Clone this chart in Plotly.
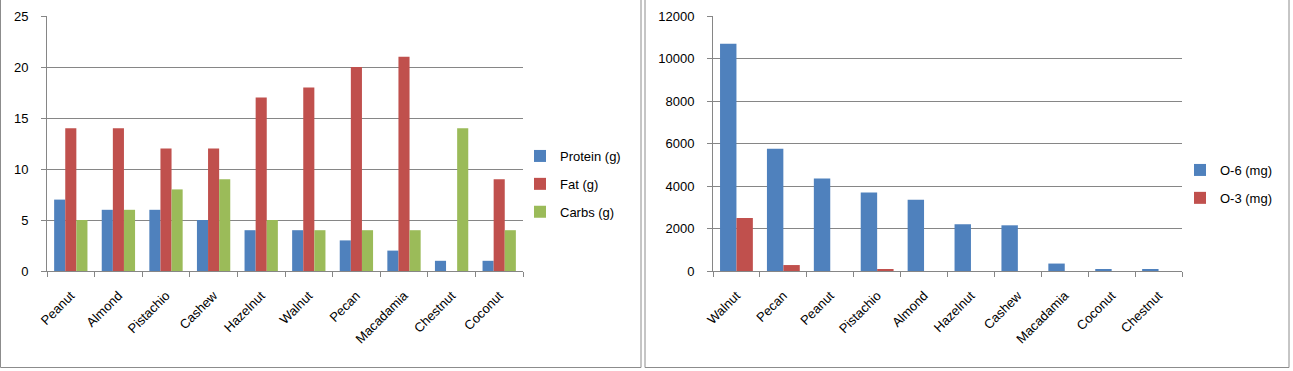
import plotly.graph_objects as go

# ---- data ----
nuts_left = ["Peanut", "Almond", "Pistachio", "Cashew", "Hazelnut", "Walnut",
             "Pecan", "Macadamia", "Chestnut", "Coconut"]
protein_g = [7, 6, 6, 5, 4, 4, 3, 2, 1, 1]
fat_g = [14, 14, 12, 12, 17, 18, 20, 21, 0, 9]
carbs_g = [5, 6, 8, 9, 5, 4, 4, 4, 14, 4]

nuts_right = ["Walnut", "Pecan", "Peanut", "Pistachio", "Almond", "Hazelnut",
              "Cashew", "Macadamia", "Coconut", "Chestnut"]
omega6_mg = [10700, 5750, 4350, 3700, 3350, 2200, 2150, 350, 80, 80]
omega3_mg = [2500, 280, 0, 80, 0, 0, 0, 0, 0, 0]

BLUE = "#4F81BD"
RED = "#C0504D"
GREEN = "#9BBB59"
GRID = "#868686"
FONT = "Liberation Sans"
FS = 13

W, H = 1293, 371


def px_x(p):
    return p / W


def px_y(p):
    return 1 - p / H


def bar(x, y, name, color, xa, ya, leg, grp):
    return go.Bar(x=x, y=y, name=name, marker=dict(color=color, line=dict(width=0)),
                  xaxis=xa, yaxis=ya, legend=leg, legendgroup=grp)


fig = go.Figure()
fig.add_trace(bar(nuts_left, protein_g, "Protein (g)", BLUE, "x", "y", "legend", "a"))
fig.add_trace(bar(nuts_left, fat_g, "Fat (g)", RED, "x", "y", "legend", "b"))
fig.add_trace(bar(nuts_left, carbs_g, "Carbs (g)", GREEN, "x", "y", "legend", "c"))
fig.add_trace(bar(nuts_right, omega6_mg, "O-6 (mg)", BLUE, "x2", "y2", "legend2", "d"))
fig.add_trace(bar(nuts_right, omega3_mg, "O-3 (mg)", RED, "x2", "y2", "legend2", "e"))

common_x = dict(showline=True, linecolor=GRID, linewidth=1, ticks="outside",
                tickson="boundaries", ticklen=5, tickcolor=GRID, tickangle=-45,
                showgrid=False, automargin=False, ticklabelstandoff=11,
                tickfont=dict(family=FONT, size=FS, color="#000"))
common_y = dict(showline=True, linecolor=GRID, linewidth=1, ticks="outside",
                ticklen=5, tickcolor=GRID, showgrid=True, gridcolor=GRID,
                gridwidth=1, zeroline=False, automargin=False,
                ticklabelstandoff=10, tickformat="d",
                tickfont=dict(family=FONT, size=FS, color="#000"))

ydom = [px_y(271), px_y(16)]
fig.update_layout(
    width=W, height=H,
    margin=dict(l=0, r=0, t=0, b=0),
    paper_bgcolor="white", plot_bgcolor="white",
    barmode="group",
    bargap=0.3,
    font=dict(family=FONT, size=FS, color="#000"),
    xaxis=dict(domain=[px_x(47), px_x(523)], anchor="y", **common_x),
    yaxis=dict(domain=ydom, anchor="x", range=[0, 25], dtick=5, **common_y),
    xaxis2=dict(domain=[px_x(713), px_x(1182)], anchor="y2", **common_x),
    yaxis2=dict(domain=ydom, anchor="x2", range=[0, 12000], dtick=2000, **common_y),
    legend=dict(x=px_x(520), y=px_y(141), xanchor="left", yanchor="top",
                traceorder="grouped", tracegroupgap=8, bgcolor="rgba(0,0,0,0)",
                font=dict(family=FONT, size=FS, color="#000"), itemclick=False),
    legend2=dict(x=px_x(1180), y=px_y(155), xanchor="left", yanchor="top",
                 traceorder="grouped", tracegroupgap=8, bgcolor="rgba(0,0,0,0)",
                 font=dict(family=FONT, size=FS, color="#000"), itemclick=False),
    shapes=[
        dict(type="rect", xref="paper", yref="paper", x0=px_x(0.5), x1=px_x(641),
             y0=px_y(367.5), y1=px_y(-5), line=dict(color="#8c8c8c", width=1)),
        dict(type="rect", xref="paper", yref="paper", x0=px_x(645), x1=px_x(1289),
             y0=px_y(367.5), y1=px_y(-5), line=dict(color="#8c8c8c", width=1)),
    ],
)

fig.write_html("out.html", config={"displayModeBar": False},
               post_script="document.body.style.margin='0';")
